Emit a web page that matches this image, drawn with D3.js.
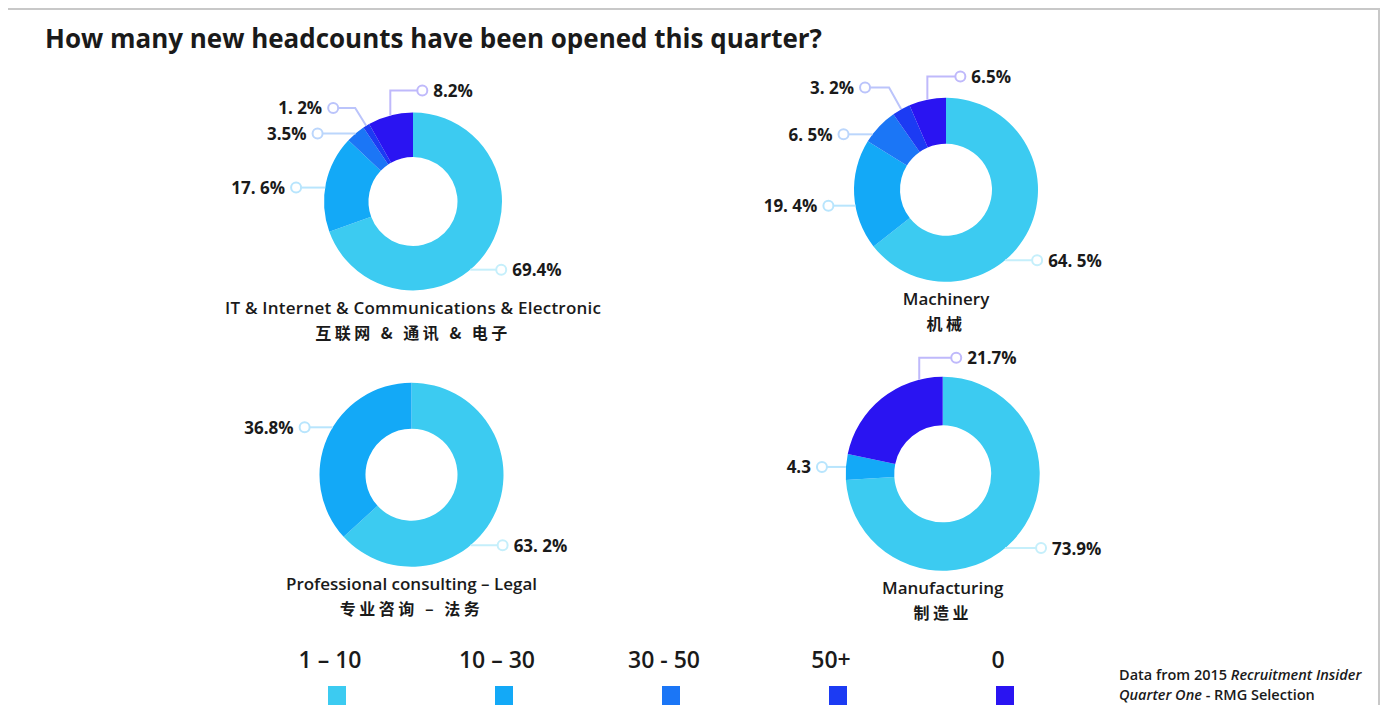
<!DOCTYPE html>
<html>
<head>
<meta charset="utf-8">
<script src="https://cdn.jsdelivr.net/npm/d3@7"></script>
<style>
  body { margin: 0; background: #fff; }
  text { font-family: "Open Sans", "Noto Sans", sans-serif; fill: #1a1a1a; }
  .cn { font-family: "Noto Sans CJK SC", sans-serif; }
</style>
</head>
<body>
<div id="chart"></div>
<script>
// headcount bands (legend order = slice order, clockwise from 12 o'clock)
const bands = ["1 – 10", "10 – 30", "30 - 50", "50+", "0"];
const bandColors = ["#3ccbf1", "#13a9f7", "#1b76f6", "#1c3bf3", "#2a14f2"];

const sectors = ["IT & Internet & Communications & Electronic", "Machinery", "Professional consulting – Legal", "Manufacturing"];
const sectorsCn = ["互联网 & 通讯 & 电子", "机械", "专业咨询 – 法务", "制造业"];

const itValues = [69.4, 17.6, 3.5, 1.2, 8.2];
const machineryValues = [64.5, 19.4, 6.5, 3.2, 6.5];
const consultingValues = [63.2, 36.8, 0, 0, 0];
const manufacturingValues = [73.9, 4.3, 0, 0, 21.7];

const itLabels = ["69.4%", "17. 6%", "3.5%", "1. 2%", "8.2%"];
const machineryLabels = ["64. 5%", "19. 4%", "6. 5%", "3. 2%", "6.5%"];
const consultingLabels = ["63. 2%", "36.8%", "", "", ""];
const manufacturingLabels = ["73.9%", "4.3", "", "", "21.7%"];

const title = "How many new headcounts have been opened this quarter?";
const noteLine1 = ["Data from 2015 ", "Recruitment Insider"];
const noteLine2 = ["Quarter One", " - RMG Selection"];

// layout of each donut and its label leaders
// leader: at = anchor angle (deg) or slice middle, mode h = flat, v = up then across, r = outward then across
var layout = [
  { cx: 413, cy: 201.5, r: 89, values: itValues, labels: itLabels, leaders: [
      { at: 140, mode: "h", run: 31, dir: 1 },
      { at: 279, mode: "h", run: 29, dir: -1 },
      { mode: "h", run: 38, dir: -1 },
      { mode: "r", rise: 21, run: 22, dir: -1 },
      { mode: "v", rise: 25, run: 32, dir: 1 }] },
  { cx: 946, cy: 189.7, r: 92, values: machineryValues, labels: machineryLabels, leaders: [
      { at: 140, mode: "h", run: 32, dir: 1 },
      { at: 260, mode: "h", run: 27, dir: -1 },
      { at: 307, mode: "h", run: 29, dir: -1 },
      { mode: "r", rise: 25, run: 24, dir: -1 },
      { mode: "v", rise: 23, run: 33, dir: 1 }] },
  { cx: 411.5, cy: 474.7, r: 92, values: consultingValues, labels: consultingLabels, leaders: [
      { at: 140, mode: "h", run: 32, dir: 1 },
      { at: 301, mode: "h", run: 28, dir: -1 }] },
  { cx: 942.7, cy: 473.8, r: 97, values: manufacturingValues, labels: manufacturingLabels, leaders: [
      { at: 140, mode: "h", run: 36, dir: 1 },
      { mode: "h", run: 24, dir: -1 },
      null, null,
      { at: 346, mode: "v", rise: 22, run: 37, dir: 1 }] }
];

var W = 1388, H = 705;
var svg = d3.select("#chart").append("svg").attr("width", W).attr("height", H);

// frame lines
svg.append("line").attr("x1", 8).attr("x2", 1380).attr("y1", 9).attr("y2", 9)
  .attr("stroke", "#c8c8c8").attr("stroke-width", 2);
svg.append("line").attr("x1", 1379).attr("x2", 1379).attr("y1", 9).attr("y2", H)
  .attr("stroke", "#c8c8c8").attr("stroke-width", 2);

svg.append("text").attr("x", 45).attr("y", 48).text(title)
  .attr("textLength", 777).attr("lengthAdjust", "spacingAndGlyphs")
  .style("font-size", "26px").style("font-weight", 700);

var color = d3.scaleOrdinal().domain(bands).range(bandColors);
var pie = d3.pie().sort(null).value(d => d.value);
var rad = Math.PI / 180;

layout.forEach(function (c, ci) {
  var g = svg.append("g").attr("transform", "translate(" + c.cx + "," + c.cy + ")");
  var rows = bands.map((b, i) => ({ band: b, value: c.values[i], label: c.labels[i], leader: c.leaders[i] }));
  var arcs = pie(rows);
  var arc = d3.arc().innerRadius(c.r * 0.5).outerRadius(c.r);

  g.selectAll(".slice").data(arcs.filter(d => d.data.value > 0)).join("path")
    .attr("class", "slice")
    .attr("d", arc)
    .attr("fill", d => color(d.data.band));

  arcs.filter(d => d.data.value > 0 && d.data.leader).forEach(function (d) {
    var L = d.data.leader;
    var a = L.at != null ? L.at * rad : (d.startAngle + d.endAngle) / 2;
    var p0 = [c.r * Math.sin(a), -c.r * Math.cos(a)];
    var p1 = p0;
    if (L.mode == "v") p1 = [p0[0], p0[1] - L.rise];
    if (L.mode == "r") p1 = [p0[0] + L.rise * Math.sin(a), p0[1] - L.rise * Math.cos(a)];
    var p2 = [p1[0] + L.dir * L.run, p1[1]];
    var lc = d3.interpolateRgb(color(d.data.band), "#ffffff")(0.7);

    g.append("path").attr("d", d3.line()([p0, p1, p2]))
      .attr("fill", "none").attr("stroke", lc).attr("stroke-width", 2);
    g.append("circle").attr("cx", p2[0]).attr("cy", p2[1]).attr("r", 5)
      .attr("fill", "#fff").attr("stroke", lc).attr("stroke-width", 2);
    g.append("text").attr("x", p2[0] + L.dir * 11).attr("y", p2[1])
      .attr("dominant-baseline", "central")
      .attr("text-anchor", L.dir > 0 ? "start" : "end")
      .style("font-size", "17px").style("font-weight", 700)
      .text(d.data.label);
  });

  g.append("text").attr("x", 0).attr("y", c.r + 17).attr("dominant-baseline", "central")
    .attr("text-anchor", "middle").style("font-size", "17px").style("font-weight", 600)
    .attr("textLength", ci == 0 ? 376 : null)
    .text(sectors[ci]);
  g.append("text").attr("class", "cn").attr("x", 0).attr("y", c.r + 41).attr("dominant-baseline", "central")
    .attr("text-anchor", "middle").style("font-size", "16px").style("font-weight", 700)
    .style("letter-spacing", "3.5px").text(sectorsCn[ci]);
});

// legend
var lx = d3.scalePoint().domain(bands).range([330, 998]);
var leg = svg.selectAll(".leg").data(bands).join("g").attr("class", "leg")
  .attr("transform", d => "translate(" + lx(d) + ",0)");
leg.append("text").attr("y", 659).attr("dominant-baseline", "central").attr("text-anchor", "middle")
  .style("font-size", "23px").style("font-weight", 600).text(d => d);
leg.append("rect").attr("x", -2).attr("y", 686).attr("width", 18).attr("height", 24)
  .attr("fill", d => color(d));

// source note
var note = svg.append("g").style("font-size", "14.5px").style("font-weight", 600);
var t1 = note.append("text").attr("x", 1119).attr("y", 680);
t1.append("tspan").text(noteLine1[0]);
t1.append("tspan").style("font-style", "italic").text(noteLine1[1]);
var t2 = note.append("text").attr("x", 1119).attr("y", 700);
t2.append("tspan").style("font-style", "italic").text(noteLine2[0]);
t2.append("tspan").text(noteLine2[1]);
</script>
</body>
</html>
